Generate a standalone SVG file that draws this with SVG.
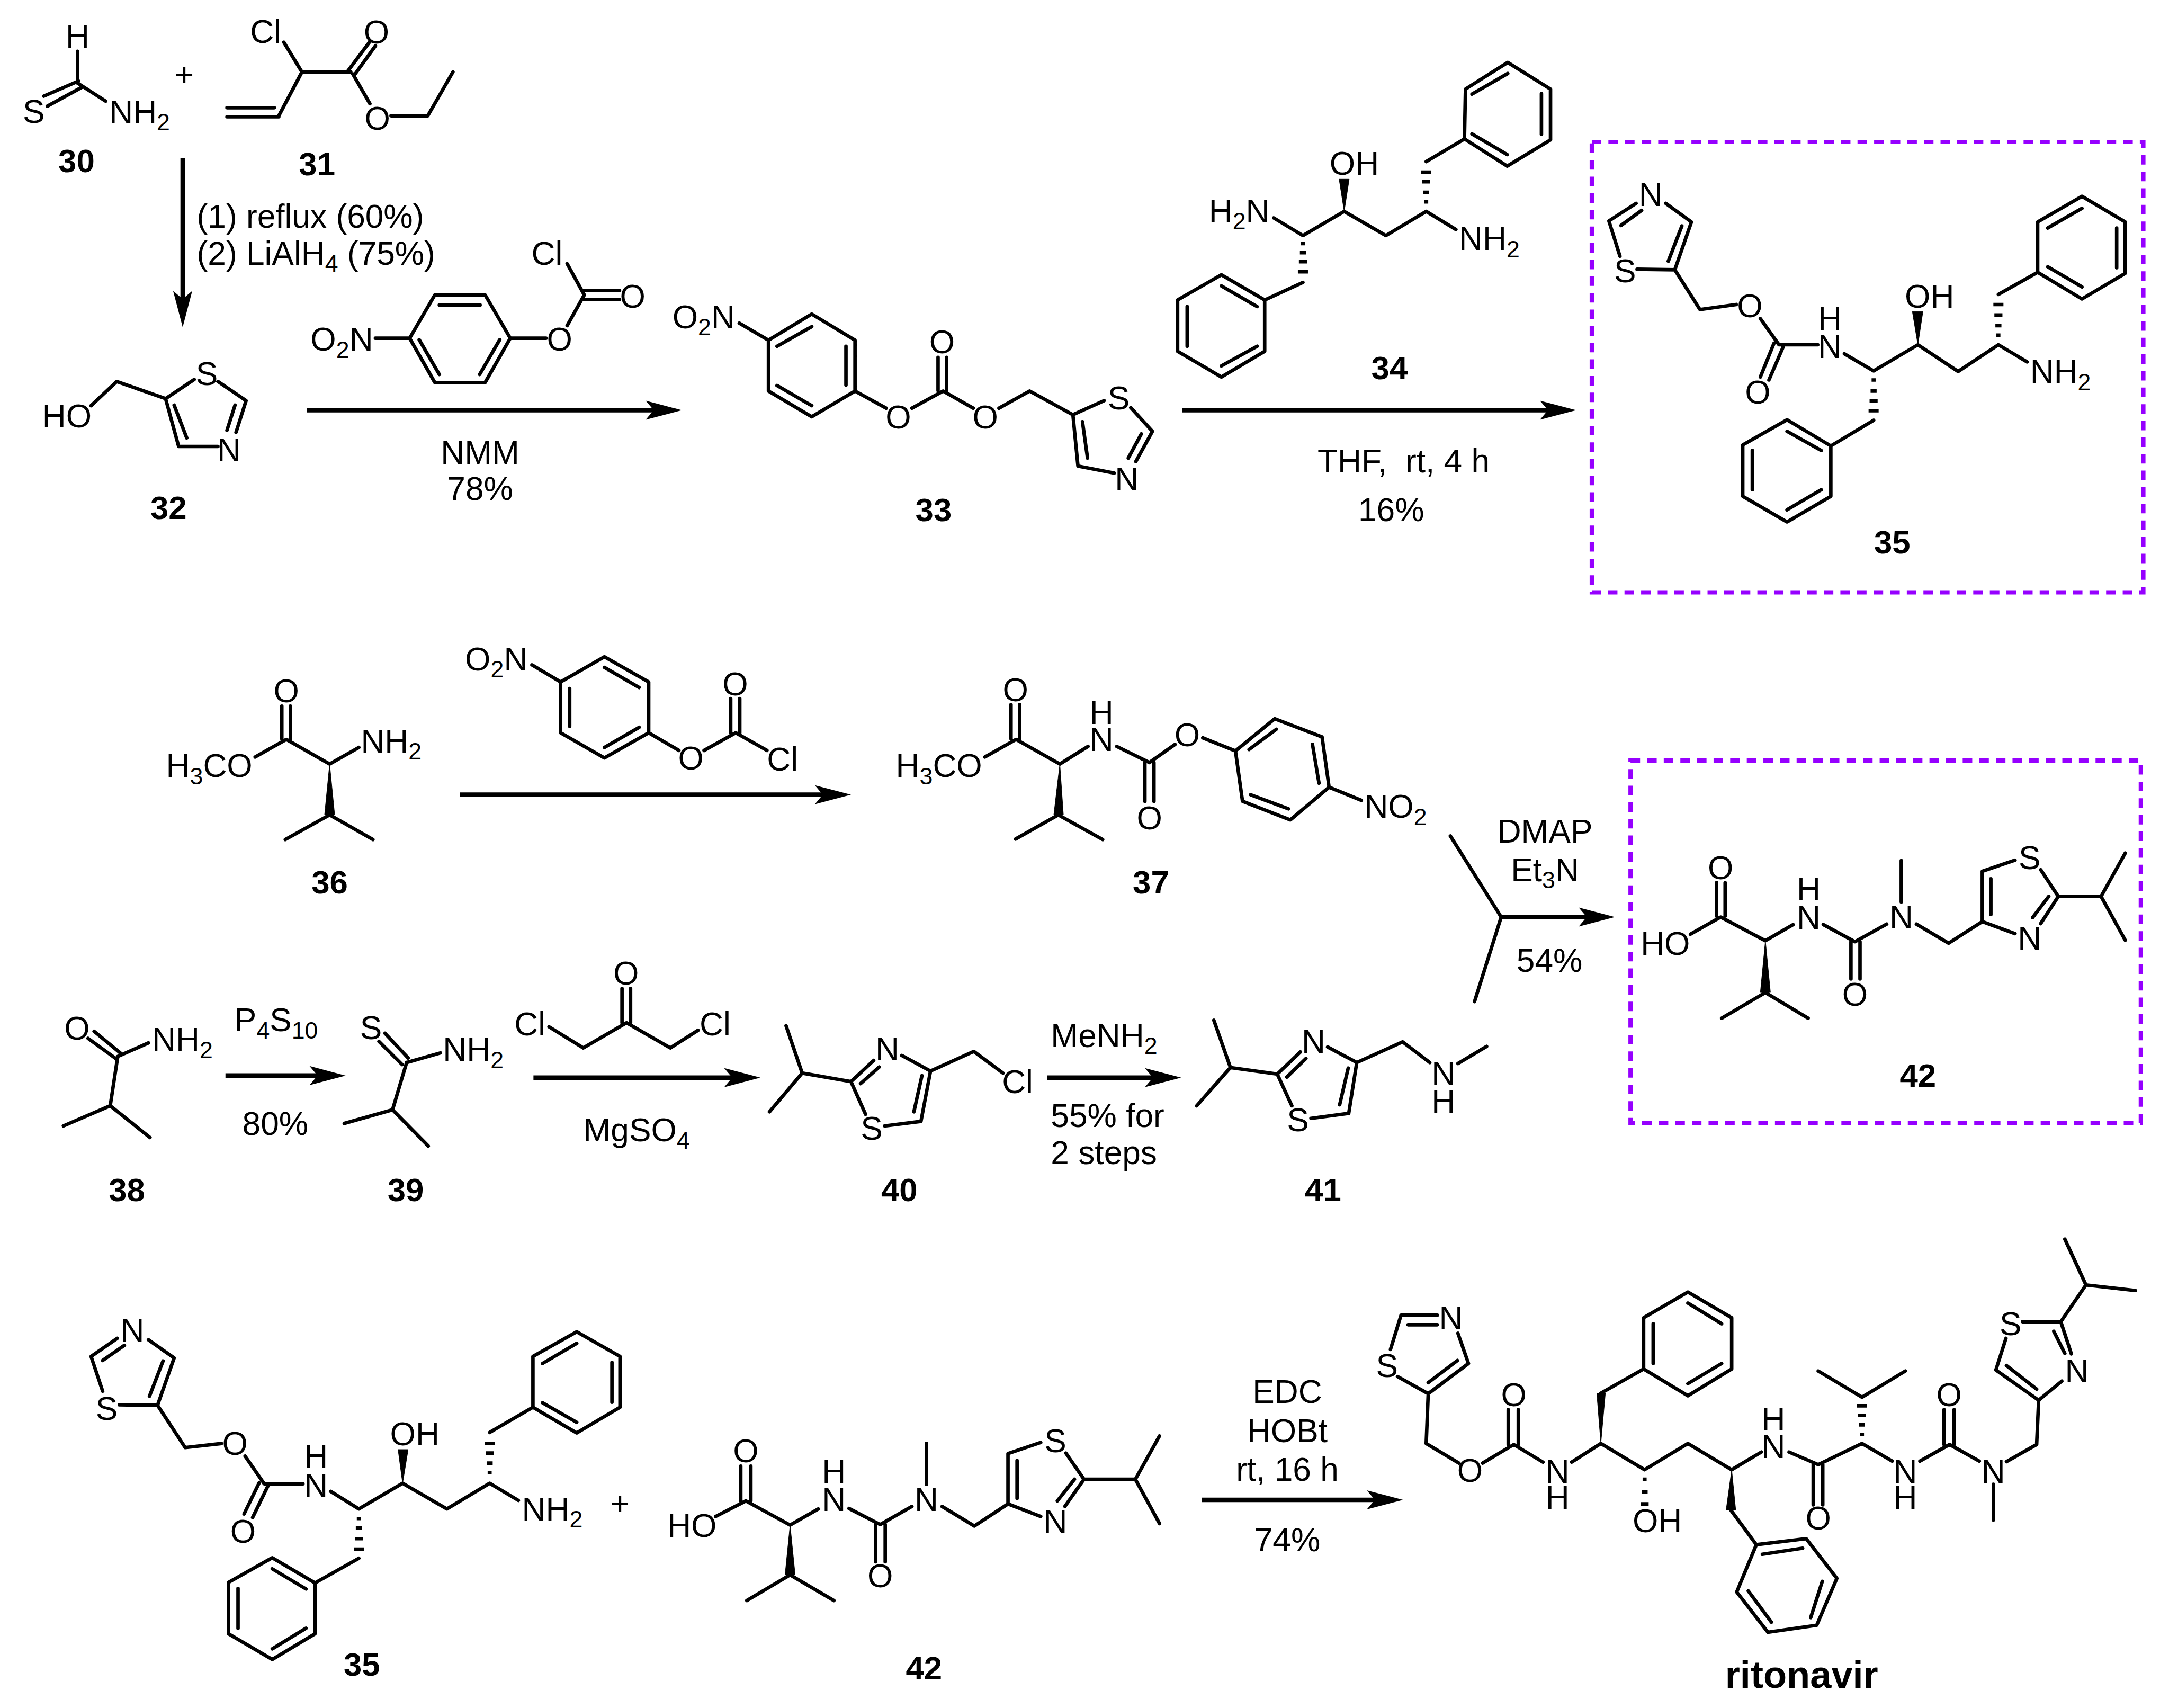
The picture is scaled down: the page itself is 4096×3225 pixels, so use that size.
<svg xmlns="http://www.w3.org/2000/svg" width="4096" height="3225" viewBox="0 0 4096 3225">
<style>
text{font-family:"Liberation Sans",Arial,sans-serif;font-size:65.5px;fill:#000}
.m{text-anchor:middle}
.l{font-weight:700;text-anchor:middle;font-size:65px}
.s{font-size:47px}
.b{fill:none;stroke:#000;stroke-width:7;stroke-linecap:round;stroke-linejoin:round}
.h{fill:none;stroke:#000;stroke-width:7}
.w{fill:#000;stroke:#000;stroke-width:1}
.a{fill:none;stroke:#000;stroke-width:9;marker-end:url(#ah)}
.x{fill:none;stroke:#9600ff;stroke-width:8.5;stroke-dasharray:19 14}
</style>
<defs><marker id="ah" markerUnits="userSpaceOnUse" markerWidth="76" markerHeight="42" refX="32" refY="21" orient="auto"><path d="M0,2L72,21L0,40L16,21Z" fill="#000"/></marker></defs>
<rect width="4096" height="3225" fill="#fff"/>
<g transform="scale(0.95035)">
<g id="connectors">
<path class="a" d="M363,314V610"/>
<path class="a" d="M610,815H1315"/>
<path class="a" d="M2349,815H3092"/>
<path class="a" d="M914,1579H1651"/>
<path class="a" d="M448,2137H647"/>
<path class="a" d="M1060,2141H1471"/>
<path class="a" d="M2081,2141H2307"/>
<path class="a" d="M2983,1822H3169"/>
<path class="b" d="M2882,1661L2983,1822L2930,1990"/>
<path class="a" d="M2388,2980H2748"/>
<rect class="x" x="3163" y="282" width="1096" height="895"/>
<rect class="x" x="3240" y="1511" width="1014" height="720"/>
</g>
<g id="conditions">
<text><tspan x="391" y="452">(1) reflux (60%)</tspan><tspan x="391" y="526">(2) LiAlH</tspan><tspan class="s" dy="14">4</tspan><tspan dy="-14"> (75%)</tspan></text>
<text class="m"><tspan x="954" y="922">NMM</tspan><tspan x="954" y="993">78%</tspan></text>
<text x="2618" y="939" xml:space="preserve">THF,  rt, 4 h</text>
<text x="2699" y="1035">16%</text>
<text class="m" x="3070" y="1674">DMAP</text>
<text class="m" x="3070" y="1751">Et<tspan class="s" dy="14">3</tspan><tspan dy="-14">N</tspan></text>
<text class="m" x="3079" y="1931">54%</text>
<text x="466" y="2049">P<tspan class="s" dy="14">4</tspan><tspan dy="-14">S</tspan><tspan class="s" dy="14">10</tspan></text>
<text class="m" x="547" y="2255">80%</text>
<text x="1159" y="2268">MgSO<tspan class="s" dy="14">4</tspan></text>
<text x="2088" y="2080">MeNH<tspan class="s" dy="14">2</tspan></text>
<text><tspan x="2088" y="2239">55% for</tspan><tspan x="2088" y="2313">2 steps</tspan></text>
<text class="m" x="2558" y="2787">EDC</text>
<text class="m" x="2558" y="2865">HOBt</text>
<text class="m" x="2558" y="2942">rt, 16 h</text>
<text class="m" x="2558" y="3082">74%</text>
<text class="m" x="366" y="172">+</text>
<text class="m" x="1232" y="3010">+</text>
</g>
<g id="c30">
<path class="b" d="M154,102V165M156,161L87,191M165,172L94,211M154,165L210,201"/>
<text class="m" x="154" y="95">H</text><text class="m" x="67" y="244">S</text>
<text x="217" y="245">NH<tspan class="s" dy="14">2</tspan></text>
<text class="l" x="152" y="342">30</text>
</g>
<g id="c31">
<path class="b" d="M564,84L600,143H697M692,140L734,84M705,148L746,91M701,147L735,206M777,230H850L900,143M600,143L554,230M545,214H451M554,232H451"/>
<text x="497" y="85">Cl</text><text class="m" x="748" y="86">O</text><text class="m" x="750" y="258">O</text>
<text class="l" x="630" y="348">31</text>
</g>
<g id="c32">
<path class="b" d="M181,806L232,758L329,792L386,754M433,758L489,796L469,859M467,805L451,855M433,887H355L329,792M371,870L346,805"/>
<text x="84" y="849">HO</text><text class="m" x="411" y="765">S</text><text class="m" x="455" y="917">N</text>
<text class="l" x="335" y="1031">32</text>
</g>
<g id="r1">
<path class="b" d="M746,672H814L864,586H964L1014,672L964,760H864L814,672M873,606H954M833,675L873,744M993,675L953,744M1014,672H1085M1127,647L1161,586L1127,524M1156,577H1231M1161,595H1231"/>
<text x="617" y="697">O<tspan class="s" dy="14">2</tspan><tspan dy="-14">N</tspan></text>
<text class="m" x="1112" y="697">O</text><text x="1056" y="526">Cl</text><text class="m" x="1257" y="611">O</text>
</g>
<g id="c33">
<path class="b" d="M1469,642L1527,676L1613,624L1699,676V777L1613,828L1527,777V676M1544,688L1613,649M1681,688V765M1544,766L1613,806M1699,777L1761,811M1812,811L1874,777L1934,811M1864,776V710M1881,776V710M1985,811L2046,777L2132,824L2194,796M2247,810L2290,857L2257,917M2268,862L2242,910M2214,940L2142,926L2132,824M2161,910L2151,838"/>
<text x="1336" y="652">O<tspan class="s" dy="14">2</tspan><tspan dy="-14">N</tspan></text>
<text class="m" x="1785" y="851">O</text><text class="m" x="1872" y="702">O</text><text class="m" x="1958" y="851">O</text>
<text class="m" x="2223" y="813">S</text><text class="m" x="2239" y="974">N</text>
<text class="l" x="1855" y="1035">33</text>
</g>
<g id="c34">
<path class="b" d="M2531,433L2589,468L2671,420L2754,468L2834,420L2893,456M2834,321L2910,276L2995,330L3081,278V177L2996,124L2912,177L2910,276M2925,266L2995,307M3063,267V186M2925,187L2996,146M2589,561L2513,596L2427,546L2340,596V698L2427,749L2513,698V596M2498,609L2427,568M2359,609V688M2498,688L2427,727"/>
<path class="w" d="M2671,420L2661,356H2681Z"/>
<path class="h" d="M2824,342h20M2826,361h16M2828,382h12M2830,401h8M2585,484h8M2583,502h12M2581,520h16M2579,540h20"/>
<text x="2402" y="442">H<tspan class="s" dy="14">2</tspan><tspan dy="-14">N</tspan></text>
<text x="2642" y="347">OH</text>
<text x="2899" y="497">NH<tspan class="s" dy="14">2</tspan></text>
<text class="l" x="2761" y="753">34</text>
</g>
<g id="c35">
<path class="b" d="M3251,404L3197,439L3219,509M3262,418L3221,448M3253,535L3328,536L3361,441L3310,404M3315,519L3342,449M3328,536L3378,615L3450,605M3498,633L3535,685H3612M3525,682L3498,749M3543,690L3515,755M3665,703L3723,737L3811,685L3891,738L3971,685L4028,719M3971,585L4049,541V441L4137,390L4223,441V543L4137,594L4049,541M4069,453L4137,414M4206,453V532M4069,530L4137,570M3723,835L3638,886L3551,834L3463,884V986L3551,1037L3638,986V886M3619,895L3551,857M3482,895V973M3619,973L3551,1013"/>
<path class="w" d="M3811,685L3800,619H3821Z"/>
<path class="h" d="M3961,605h20M3963,626h16M3965,647h12M3967,666h8M3719,755h8M3717,777h12M3715,797h16M3713,816h20"/>
<text class="m" x="3280" y="409">N</text><text class="m" x="3229" y="561">S</text><text class="m" x="3477" y="630">O</text><text class="m" x="3493" y="802">O</text>
<text class="m"><tspan x="3636" y="656">H</tspan><tspan x="3636" y="711">N</tspan></text>
<text x="3785" y="611">OH</text>
<text x="4034" y="761">NH<tspan class="s" dy="14">2</tspan></text>
<text class="l" x="3760" y="1100">35</text>
</g>
<g id="c36">
<path class="b" d="M507,1504L569,1469L655,1518L713,1485M560,1468V1403M577,1468V1403M655,1619L567,1668M655,1619L741,1668"/>
<path class="w" d="M655,1518L645,1619H665Z"/>
<text x="330" y="1544">H<tspan class="s" dy="14">3</tspan><tspan dy="-14">CO</tspan></text>
<text class="m" x="569" y="1395">O</text>
<text x="717" y="1495">NH<tspan class="s" dy="14">2</tspan></text>
<text class="l" x="655" y="1775">36</text>
</g>
<g id="r2">
<path class="b" d="M1057,1321L1114,1355L1201,1305L1289,1355V1456L1201,1506L1114,1456V1355M1132,1368V1443M1201,1326L1270,1366M1270,1445L1201,1485M1289,1456L1349,1491M1399,1491L1462,1456L1524,1491M1452,1456V1388M1470,1456V1388"/>
<text x="924" y="1332">O<tspan class="s" dy="14">2</tspan><tspan dy="-14">N</tspan></text>
<text class="m" x="1373" y="1529">O</text><text class="m" x="1461" y="1382">O</text><text x="1524" y="1531">Cl</text>
</g>
<g id="c37">
<path class="b" d="M1957,1504L2019,1469L2106,1518L2162,1483M2009,1468V1400M2026,1468V1400M2103,1619L2018,1667M2103,1619L2191,1668M2219,1483L2284,1515L2335,1479M2275,1515V1592M2293,1515V1592M2390,1466L2455,1492L2533,1428L2627,1464L2641,1564L2564,1629L2469,1592L2455,1492M2482,1489L2536,1449M2608,1479L2621,1556M2485,1579L2560,1607M2641,1564L2705,1590"/>
<path class="w" d="M2106,1518L2094,1619H2113Z"/>
<text x="1780" y="1544">H<tspan class="s" dy="14">3</tspan><tspan dy="-14">CO</tspan></text>
<text class="m" x="2018" y="1393">O</text>
<text class="m"><tspan x="2189" y="1438">H</tspan><tspan x="2189" y="1492">N</tspan></text>
<text class="m" x="2284" y="1648">O</text><text class="m" x="2359" y="1483">O</text>
<text x="2711" y="1625">NO<tspan class="s" dy="14">2</tspan></text>
<text class="l" x="2287" y="1775">37</text>
</g>
<g id="c38">
<path class="b" d="M187,2049L239,2092M175,2063L230,2103M234,2099L295,2072M234,2099L219,2197L126,2237M219,2197L298,2260"/>
<text class="m" x="153" y="2066">O</text>
<text x="302" y="2088">NH<tspan class="s" dy="14">2</tspan></text>
<text class="l" x="252" y="2386">38</text>
</g>
<g id="c39">
<path class="b" d="M765,2053L811,2102M753,2069L799,2115M808,2111L875,2092M808,2111L780,2205L684,2232M780,2205L851,2277"/>
<text class="m" x="737" y="2065">S</text>
<text x="880" y="2108">NH<tspan class="s" dy="14">2</tspan></text>
<text class="l" x="806" y="2386">39</text>
</g>
<g id="r3">
<path class="b" d="M1091,2040L1159,2082L1245,2032L1332,2082L1387,2047M1236,2032V1964M1253,2032V1964"/>
<text x="1022" y="2057">Cl</text><text x="1390" y="2057">Cl</text><text class="m" x="1244" y="1956">O</text>
</g>
<g id="c40">
<path class="b" d="M1562,2038L1594,2132L1529,2209M1594,2132L1691,2149L1736,2107M1710,2153L1747,2120M1792,2097L1849,2128L1830,2228L1758,2237M1832,2137L1816,2209M1720,2214L1691,2149M1849,2128L1935,2089L1993,2132"/>
<text class="m" x="1763" y="2107">N</text><text class="m" x="1732" y="2264">S</text><text x="1991" y="2172">Cl</text>
<text class="l" x="1787" y="2386">40</text>
</g>
<g id="c41">
<path class="b" d="M2412,2027L2445,2121L2378,2197M2445,2121L2538,2134L2584,2090M2557,2140L2595,2103M2638,2080L2696,2111L2680,2212L2605,2222M2679,2122L2662,2195M2567,2197L2538,2134M2696,2111L2787,2070L2841,2111M2897,2113L2954,2079"/>
<text class="m" x="2610" y="2092">N</text><text class="m" x="2579" y="2248">S</text>
<text class="m"><tspan x="2868" y="2155">N</tspan><tspan x="2868" y="2211">H</tspan></text>
<text class="l" x="2629" y="2386">41</text>
</g>
<g id="c42">
<path class="b" d="M3359,1856L3419,1822L3508,1869L3563,1837M3411,1820V1754M3428,1820V1754M3508,1972L3421,2023M3508,1972L3593,2023M3623,1837L3686,1871L3749,1836M3678,1871V1945M3696,1871V1945M3778,1792V1710M3808,1836L3872,1874L3939,1831V1731L4004,1709M3956,1817V1746M4055,1728L4090,1781L4055,1835M4071,1781L4039,1823M4004,1855L3939,1831M4090,1781H4175L4223,1695M4175,1781L4223,1868"/>
<path class="w" d="M3508,1869L3498,1972H3518Z"/>
<text x="3260" y="1897">HO</text><text class="m" x="3419" y="1747">O</text>
<text class="m"><tspan x="3594" y="1789">H</tspan><tspan x="3594" y="1846">N</tspan></text>
<text class="m" x="3686" y="1998">O</text><text class="m" x="3778" y="1845">N</text><text class="m" x="4033" y="1727">S</text><text class="m" x="4033" y="1887">N</text>
<text class="l" x="3811" y="2159">42</text>
</g>
<g id="c35b">
<path class="b" d="M233,2659L181,2695L204,2764M247,2673L204,2703M237,2791L313,2792L346,2698L295,2662M297,2774L324,2704M313,2792L368,2876L440,2868M487,2893L525,2948H602M515,2946L485,3008M533,2951L502,3015M657,2963L713,2998L800,2947L888,2998L973,2947L1030,2981M973,2846L1059,2796V2695L1146,2646L1232,2695V2796L1146,2847L1059,2796M1078,2709L1146,2669M1216,2707V2786M1078,2787L1146,2826M713,3096L626,3145L541,3095L454,3144V3246L541,3297L626,3246V3145M608,3157L541,3117M473,3156V3235M608,3235L541,3276"/>
<path class="w" d="M800,2947L791,2880H811Z"/>
<path class="h" d="M963,2868h20M965,2887h16M967,2907h12M969,2926h8M709,3017h8M707,3036h12M705,3057h16M703,3078h20"/>
<text class="m" x="263" y="2665">N</text><text class="m" x="212" y="2821">S</text><text class="m" x="467" y="2891">O</text><text class="m" x="483" y="3065">O</text>
<text class="m"><tspan x="628" y="2916">H</tspan><tspan x="628" y="2974">N</tspan></text>
<text x="775" y="2872">OH</text>
<text x="1037" y="3021">NH<tspan class="s" dy="14">2</tspan></text>
<text class="l" x="719" y="3329">35</text>
</g>
<g id="c42b">
<path class="b" d="M1422,3013L1482,2982L1570,3030L1626,2998M1472,2982V2913M1492,2982V2913M1570,3129L1484,3180M1570,3129L1657,3180M1687,2997L1749,3029L1812,2993M1740,3029V3103M1759,3029V3103M1841,2949V2868M1872,2993L1936,3032L2003,2988V2888L2068,2866M2021,2977V2902M2118,2887L2154,2939L2116,2993M2135,2939L2101,2982M2068,3013L2003,2988M2154,2939H2256L2304,2853M2256,2939L2304,3027"/>
<path class="w" d="M1570,3030L1560,3129H1580Z"/>
<text x="1326" y="3054">HO</text><text class="m" x="1482" y="2905">O</text>
<text class="m"><tspan x="1657" y="2946">H</tspan><tspan x="1657" y="3002">N</tspan></text>
<text class="m" x="1749" y="3154">O</text><text class="m" x="1841" y="3002">N</text><text class="m" x="2097" y="2885">S</text><text class="m" x="2097" y="3045">N</text>
<text class="l" x="1836" y="3337">42</text>
</g>
<g id="ritonavir">
<path class="b" d="M2856,2613H2784L2763,2681M2856,2632H2798M2777,2735L2838,2769L2918,2709L2897,2649M2838,2747L2896,2703M2838,2769L2834,2868L2899,2907M2946,2907L3008,2870L3066,2905M2997,2870V2801M3017,2870V2801M3123,2905L3181,2868L3268,2920L3354,2868L3441,2920L3500,2885M3181,2768L3266,2720V2618L3354,2567L3441,2618V2720L3354,2773L3266,2720M3285,2709V2630M3354,2589L3421,2630M3421,2709L3354,2749M3439,3000L3490,3069L3589,3057L3650,3136L3610,3229L3513,3243L3451,3163L3490,3069M3502,3088L3582,3076M3621,3142L3598,3214M3474,3161L3520,3223M3555,2885L3613,2910L3700,2868L3760,2903M3603,2910V2990M3622,2910V2990M3700,2776L3613,2724M3700,2776L3786,2724M3815,2903L3874,2870L3933,2903M3863,2870V2801M3883,2870V2801M3961,2949V3020M3987,2904L4047,2870L4051,2782L3966,2722L3986,2659M4047,2760L3987,2713M4019,2626H4095L4116,2690M4081,2645L4103,2689M4097,2744L4051,2782M4095,2626L4145,2553L4103,2462M4145,2553L4243,2564"/>
<path class="w" d="M3181,2868L3173,2768H3190ZM3441,2920L3430,3000H3449Z"/>
<path class="h" d="M3264,2939h8M3262,2964h12M3260,2988h16M3690,2793h20M3692,2812h16M3694,2831h12M3696,2850h8"/>
<text class="m" x="2883" y="2641">N</text><text class="m" x="2756" y="2736">S</text><text class="m" x="2921" y="2944">O</text><text class="m" x="3008" y="2794">O</text>
<text class="m"><tspan x="3095" y="2946">N</tspan><tspan x="3095" y="2998">H</tspan></text>
<text x="3244" y="3044">OH</text>
<text class="m"><tspan x="3524" y="2842">H</tspan><tspan x="3524" y="2897">N</tspan></text>
<text class="m" x="3613" y="3039">O</text>
<text class="m"><tspan x="3786" y="2946">N</tspan><tspan x="3786" y="2998">H</tspan></text>
<text class="m" x="3873" y="2794">O</text>
<text class="m" x="3961" y="2946">N</text><text class="m" x="3995" y="2653">S</text><text class="m" x="4127" y="2746">N</text>
<text class="l" x="3580" y="3353" style="font-size:76px">ritonavir</text>
</g>
</g>
</svg>
